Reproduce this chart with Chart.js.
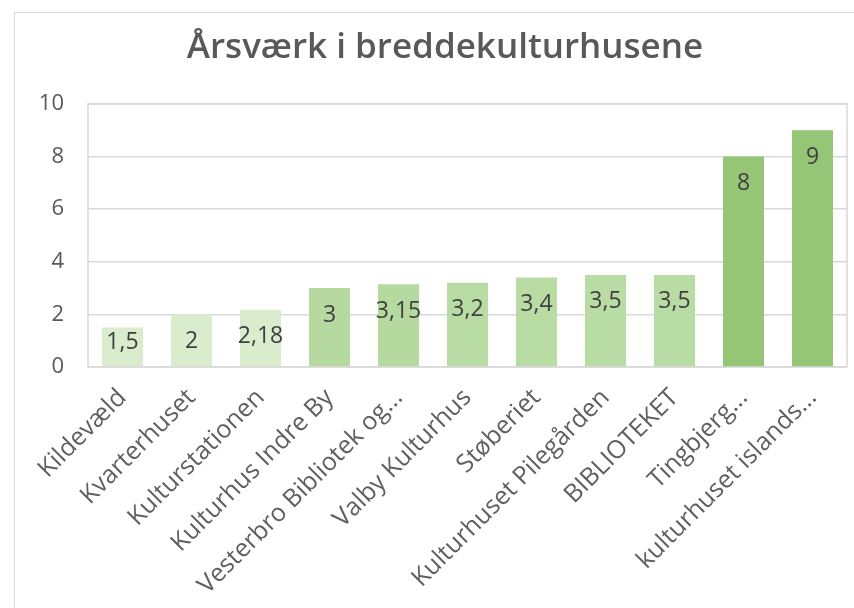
<!DOCTYPE html>
<html>
<head>
<meta charset="utf-8">
<script src="https://cdn.jsdelivr.net/npm/chart.js@4.4.1/dist/chart.umd.min.js"></script>
<style>
  html, body { margin: 0; padding: 0; background: #fff; overflow: hidden; }
  #frame {
    position: absolute; left: 14px; top: 12px;
    width: 880px; height: 620px;
    border: 1px solid #d9d9d9; box-sizing: border-box;
  }
  #wrap { position: absolute; left: 15px; top: 13px; width: 860px; height: 595px; }
</style>
</head>
<body>
<div id="frame"></div>
<div id="wrap"><canvas id="chart"></canvas></div>
<script>
const categories = [
    "Kildevæld",
    "Kvarterhuset",
    "Kulturstationen",
    "Kulturhus Indre By",
    "Vesterbro Bibliotek og...",
    "Valby Kulturhus",
    "Støberiet",
    "Kulturhuset Pilegården",
    "BIBLIOTEKET",
    "Tingbjerg...",
    "kulturhuset islands...",
];
const values = [1.5, 2, 2.18, 3, 3.15, 3.2, 3.4, 3.5, 3.5, 8, 9];
const yTicks = [0, 2, 4, 6, 8, 10];

const barColors = [
    "#d9ecce", "#d9ecce", "#d9ecce",
    "#b6d99f", "#b6d99f", "#b9dba4", "#b9dba4", "#b9dba4", "#b9dba4",
    "#95c675", "#95c675",
];

const FONT = "'Open Sans', sans-serif";

const valueLabels = {
    id: "valueLabels",
    afterDatasetsDraw(chart) {
        const ctx = chart.ctx;
        const meta = chart.getDatasetMeta(0);
        ctx.save();
        ctx.font = "23px " + FONT;
        ctx.fillStyle = "#404040";
        ctx.textAlign = "center";
        ctx.textBaseline = "middle";
        meta.data.forEach((bar, i) => {
            const y = Math.min(bar.y + 27, bar.base - 24);
            ctx.fillText(String(values[i]).replace(".", ","), bar.x, y);
        });
        ctx.restore();
    },
};

const plotBox = {
    id: "plotBox",
    beforeDatasetsDraw(chart) {
        const { ctx, chartArea } = chart;
        ctx.save();
        ctx.strokeStyle = "#d9d9d9";
        ctx.lineWidth = 1.5;
        ctx.strokeRect(chartArea.left, chartArea.top, chartArea.right - chartArea.left, chartArea.bottom - chartArea.top);
        ctx.restore();
    },
};

document.addEventListener("DOMContentLoaded", () => {
    const $chart = document.querySelector("#chart");

    new Chart($chart, {
        type: "bar",
        data: {
            labels: categories,
            datasets: [
                {
                    data: values,
                    backgroundColor: barColors,
                    barPercentage: 0.594,
                    categoryPercentage: 1,
                },
            ],
        },
        options: {
            responsive: true,
            maintainAspectRatio: false,
            animation: false,
            layout: { padding: 0 },
            plugins: {
                legend: { display: false },
                tooltip: { enabled: false },
                title: {
                    display: true,
                    text: "Årsværk i breddekulturhusene",
                    color: "#595959",
                    font: { family: FONT, size: 35, weight: "600" },
                    padding: { top: 14, bottom: 35 },
                },
            },
            scales: {
                x: {
                    grid: { display: false },
                    border: { display: false },
                    ticks: {
                        color: "#5f5f5f",
                        font: { family: FONT, size: 25 },
                        minRotation: 45,
                        maxRotation: 45,
                        autoSkip: false,
                        padding: 8,
                    },
                    afterFit: (axis) => { axis.height = 241; },
                },
                y: {
                    min: 0,
                    max: 10,
                    afterBuildTicks: (axis) => {
                        axis.ticks = yTicks.map((v) => ({ value: v }));
                    },
                    grid: { color: "#d9d9d9", lineWidth: 1.5, drawTicks: false },
                    border: { display: false },
                    ticks: {
                        color: "#595959",
                        font: { family: FONT, size: 22 },
                        padding: 24,
                    },
                    afterFit: (axis) => { axis.width = 73; },
                },
                // empty right-hand spacer so the title stays centred on the whole box
                yRight: {
                    position: "right",
                    grid: { display: false },
                    border: { display: false },
                    ticks: { display: false },
                    afterFit: (axis) => { axis.width = 28; },
                },
            },
        },
        plugins: [valueLabels, plotBox],
    });
});
</script>
</body>
</html>
